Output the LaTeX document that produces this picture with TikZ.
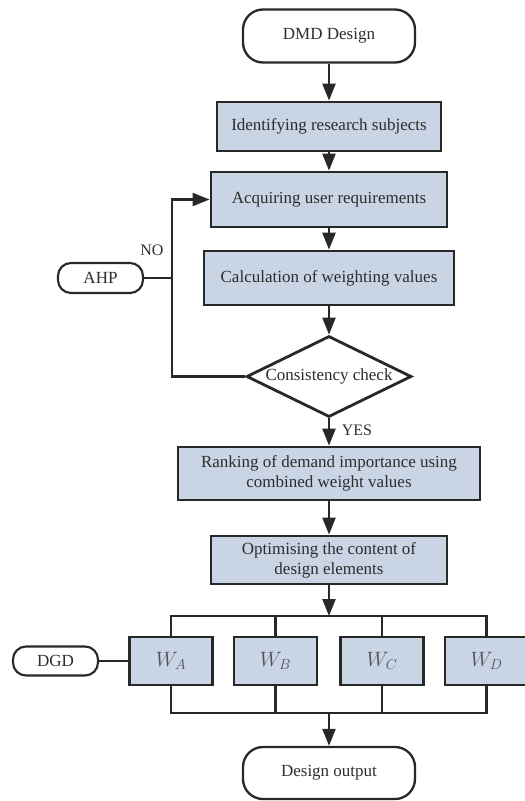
\documentclass[tikz,border=0pt]{standalone}
\usepackage{fontspec}
\setmainfont{Liberation Serif}
\usetikzlibrary{arrows.meta,shapes.geometric}
\definecolor{boxfill}{RGB}{201,212,228}
\definecolor{linec}{RGB}{40,40,40}
\definecolor{textc}{RGB}{45,45,45}
\definecolor{wtext}{RGB}{80,82,90}
\begin{document}
\begin{tikzpicture}[x=1pt,y=-1pt,
  every node/.style={font=\fontsize{17}{20}\selectfont, text=textc, inner sep=0pt},
  proc/.style={rectangle, draw=linec, fill=boxfill, line width=2.8pt, align=center},
  term/.style={rectangle, rounded corners=20pt, draw=linec, fill=white, line width=2.3pt, align=center},
  smallterm/.style={rectangle, rounded corners=13pt, draw=linec, fill=white, line width=2.1pt, align=center},
  dec/.style={diamond, draw=linec, fill=white, line width=2.8pt, aspect=2.04, align=center},
  wbox/.style={proc, minimum width=83pt, minimum height=48pt, font=\fontsize{22}{25}\selectfont, text=wtext},
  conn/.style={draw=linec, line width=2.3pt},
  arr/.style={conn, -{Triangle[length=17pt,width=13pt]}},
  lab/.style={font=\fontsize{16}{19}\selectfont}
]
\useasboundingbox (0,0) rectangle (525,801);

\node[term, minimum width=172pt, minimum height=53pt] (dmd) at (329,36) {DMD Design};
\node[proc, minimum width=224pt, minimum height=49pt] (ident) at (329,126.5) {Identifying research subjects};
\node[proc, minimum width=236pt, minimum height=55pt] (acq) at (329,199.5) {Acquiring user requirements};
\node[proc, minimum width=250pt, minimum height=54pt] (calc) at (329,278) {Calculation of weighting values};
\node[dec, minimum width=165pt, minimum height=81pt] (cons) at (329,376.5) {Consistency check};
\node[proc, minimum width=302pt, minimum height=53pt] (rank) at (329,473.5) {Ranking of demand importance using\\combined weight values};
\node[proc, minimum width=236pt, minimum height=48pt] (opt) at (329,560) {Optimising the content of\\design elements};

\node[smallterm, minimum width=85pt, minimum height=30pt] (ahp) at (100.5,278) {AHP};
\node[smallterm, minimum width=85pt, minimum height=29pt] (dgd) at (55.5,661) {DGD};

\node[wbox] (wa) at (171,661) {$W_A$};
\node[wbox] (wb) at (275.5,661) {$W_B$};
\node[wbox] (wc) at (382,661) {$W_C$};
\node[wbox] (wd) at (486.5,661) {$W_D$};

\node[term, minimum width=172pt, minimum height=52pt] (out) at (329,773) {Design output};

\node[lab] (no) at (152,250) {NO};
\node[lab] (yes) at (357,430) {YES};

\coordinate (fb) at (172,376.5);
\coordinate (bt) at (329,616);
\coordinate (bb) at (329,713);

\draw[arr] (dmd) -- (ident);
\draw[arr] (ident) -- (acq);
\draw[arr] (acq) -- (calc);
\draw[arr] (calc) -- (cons);
\draw[arr] (cons) -- (rank);
\draw[arr] (rank) -- (opt);
\draw[arr] (cons.west) -- (fb) |- (acq.west);
\draw[conn] (ahp.east) -- (ahp.east -| fb);
\draw[arr] (opt) -- (bt);
\draw[conn] (wa.north) -- (wa.north |- bt) -- (wd.north |- bt) -- (wd.north);
\draw[conn] (wb.north) -- (wb.north |- bt);
\draw[conn] (wc.north) -- (wc.north |- bt);
\draw[conn] (wa.south) -- (wa.south |- bb) -- (wd.south |- bb) -- (wd.south);
\draw[conn] (wb.south) -- (wb.south |- bb);
\draw[conn] (wc.south) -- (wc.south |- bb);
\draw[arr] (bb) -- (out);
\draw[conn] (dgd.east) -- (wa.west);
\end{tikzpicture}
\end{document}
